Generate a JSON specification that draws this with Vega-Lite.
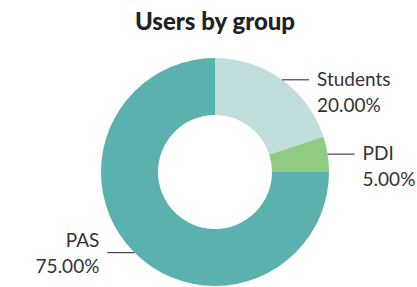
{
  "$schema": "https://vega.github.io/schema/vega-lite/v6.json",
  "autosize": "none",
  "width": 430,
  "height": 256,
  "padding": {"left": 0, "top": 44, "right": 0, "bottom": 0},
  "background": "white",
  "title": {"text": "Users by group", "font": "Lato", "fontSize": 24, "fontWeight": 900, "color": "#222222", "anchor": "middle", "offset": 9},
  "config": {"view": {"stroke": null}},
  "data": {"values": [
    {"group": "Students", "value": 20},
    {"group": "PDI", "value": 5},
    {"group": "PAS", "value": 75}
  ]},
  "transform": [
    {"window": [{"op": "sum", "field": "value", "as": "cum"}, {"op": "row_number", "as": "idx"}], "frame": [null, 0]},
    {"joinaggregate": [{"op": "sum", "field": "value", "as": "total"}]},
    {"calculate": "2*PI*(datum.cum - datum.value/2)/datum.total", "as": "mid"},
    {"calculate": "sin(datum.mid) >= 0 ? 1 : -1", "as": "side"},
    {"calculate": "114*sin(datum.mid)", "as": "ax"},
    {"calculate": "114*cos(datum.mid)", "as": "ay"},
    {"calculate": "datum.ax + datum.side*27", "as": "bx"},
    {"calculate": "datum.ax + datum.side*35", "as": "tx"},
    {"calculate": "format(datum.value/datum.total, '.2%')", "as": "pct"}
  ],
  "layer": [
    {
      "mark": {"type": "arc", "outerRadius": 114, "innerRadius": 57},
      "encoding": {
        "theta": {"field": "value", "type": "quantitative", "stack": true},
        "order": {"field": "idx", "type": "quantitative"},
        "color": {"field": "group", "type": "nominal", "scale": {"domain": ["Students", "PDI", "PAS"], "range": ["#c1dedd", "#8fcb80", "#5bb1ad"]}, "legend": null}
      }
    },
    {
      "mark": {"type": "rule", "color": "#444444", "strokeWidth": 1.2},
      "encoding": {
        "x": {"field": "ax", "type": "quantitative", "scale": {"domain": [-215, 215], "nice": false, "zero": false}, "axis": null},
        "x2": {"field": "bx"},
        "y": {"field": "ay", "type": "quantitative", "scale": {"domain": [-128, 128], "nice": false, "zero": false}, "axis": null}
      }
    },
    {
      "transform": [{"filter": "datum.side > 0"}],
      "mark": {"type": "text", "align": "left", "baseline": "middle", "font": "Lato", "fontSize": 19, "color": "#333333"},
      "encoding": {
        "x": {"field": "tx", "type": "quantitative"},
        "y": {"field": "ay", "type": "quantitative"},
        "text": {"field": "group"}
      }
    },
    {
      "transform": [{"filter": "datum.side > 0"}],
      "mark": {"type": "text", "align": "left", "baseline": "middle", "font": "Lato", "fontSize": 19, "color": "#333333", "dy": 26},
      "encoding": {
        "x": {"field": "tx", "type": "quantitative"},
        "y": {"field": "ay", "type": "quantitative"},
        "text": {"field": "pct"}
      }
    },
    {
      "transform": [{"filter": "datum.side < 0"}],
      "mark": {"type": "text", "align": "right", "baseline": "middle", "font": "Lato", "fontSize": 19, "color": "#333333", "dy": -12},
      "encoding": {
        "x": {"field": "tx", "type": "quantitative"},
        "y": {"field": "ay", "type": "quantitative"},
        "text": {"field": "group"}
      }
    },
    {
      "transform": [{"filter": "datum.side < 0"}],
      "mark": {"type": "text", "align": "right", "baseline": "middle", "font": "Lato", "fontSize": 19, "color": "#333333", "dy": 14},
      "encoding": {
        "x": {"field": "tx", "type": "quantitative"},
        "y": {"field": "ay", "type": "quantitative"},
        "text": {"field": "pct"}
      }
    }
  ]
}
